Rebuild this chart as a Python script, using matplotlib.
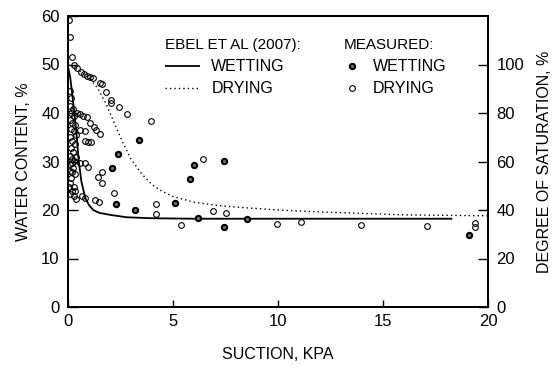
import matplotlib.pyplot as plt

plt.rcParams["font.family"] = ["Liberation Sans", "DejaVu Sans"]

# Ebel et al (2007) model curves
model_wet_suction = [0, 0.1, 0.2, 0.3, 0.4, 0.5, 0.64, 0.83, 1.0, 1.2, 1.5, 2.0,
                     2.8, 4, 6, 10, 14, 18.3]
model_wet_wc = [49.5, 47.5, 44, 40, 36, 30.5, 25.8, 22.4, 21.0, 20.0, 19.4, 19.0,
                18.5, 18.3, 18.2, 18.2, 18.2, 18.2]

model_dry_suction = [0, 0.5, 1.0, 1.4, 1.8, 2.2, 2.6, 3.0, 3.5, 4.0, 4.5, 5.0, 6.0,
                     7.0, 8.0, 9.0, 10, 12, 14, 16, 18, 20]
model_dry_wc = [50, 48.8, 47.3, 45.2, 42, 38, 34, 30.5, 27.5, 25.2, 23.8, 22.8, 21.6,
                21.0, 20.6, 20.3, 20.0, 19.6, 19.3, 19.0, 18.9, 18.8]

# measured, wetting
wet_suction = [2.09, 2.38, 3.38, 2.28, 3.19, 5.1, 5.8, 6.0, 7.43, 6.2, 7.43, 8.5, 19.1]
wet_wc = [28.7, 31.5, 34.4, 21.2, 20.0, 21.4, 26.4, 29.3, 30.1, 18.4, 16.5, 18.1, 14.8]

# measured, drying
dry_suction = [
    0.05, 0.1, 0.2, 0.3, 0.45, 0.6, 0.75, 0.9, 1.05, 1.2, 1.52, 1.6, 1.8, 2.05, 2.05,
    2.43, 2.8, 3.95,
    0.43, 0.57, 0.71, 0.9, 1.05, 1.24, 1.33, 1.52, 0.57, 0.8, 0.8, 0.95, 1.1,
    0.2, 0.57, 0.8, 0.95, 0.33, 0.2, 0.1, 0.29, 0.33, 0.67, 0.8, 1.29, 1.48, 1.62,
    1.43, 1.62, 2.19, 4.19, 4.19, 5.38, 6.43, 6.9, 7.52, 9.95, 11.1, 13.95, 17.1,
    19.4, 19.4,
    0.08, 0.15, 0.1, 0.22, 0.12, 0.3, 0.08, 0.2, 0.35, 0.12, 0.27, 0.4, 0.08, 0.2,
    0.32, 0.12, 0.25, 0.08, 0.38, 0.18, 0.3, 0.1, 0.22, 0.08, 0.14, 0.05, 0.2, 0.1,
    0.28, 0.4,
]
dry_wc = [
    59.2, 55.7, 51.5, 49.9, 49.3, 48.5, 48.0, 47.7, 47.5, 47.2, 46.2, 46.0, 44.3, 42.7,
    42.0, 41.2, 39.8, 38.4,
    40.0, 39.8, 39.4, 39.2, 37.9, 37.1, 36.5, 35.7, 36.5, 36.3, 34.2, 34.0, 34.0,
    29.7, 29.7, 29.7, 28.9, 27.4, 27.8, 25.6, 24.7, 23.9, 22.9, 22.5, 22.1, 21.7, 27.8,
    26.8, 25.6, 23.5, 21.2, 19.2, 16.9, 30.5, 19.8, 19.4, 17.1, 17.5, 16.9, 16.7,
    17.3, 16.5,
    44.5, 43.0, 41.5, 40.8, 40.0, 39.3, 38.6, 38.0, 37.6, 36.8, 36.2, 35.5, 35.0, 34.3,
    33.6, 32.8, 32.0, 31.2, 31.0, 30.5, 30.2, 29.4, 28.6, 28.0, 26.5, 24.8, 24.0, 23.2,
    22.8, 22.3,
]

left_ticks = [0, 10, 20, 30, 40, 50, 60]
right_ticks = [0, 20, 40, 60, 80, 100]
x_ticks = [0, 5, 10, 15, 20]

fig = plt.figure(figsize=(5.52, 3.74), dpi=100)
ax = fig.add_axes([68 / 552, 1 - 307 / 374, 420 / 552, 291 / 374])

wet_line, = ax.plot(model_wet_suction, model_wet_wc, color="black", lw=1.3,
                    solid_capstyle="butt")
dry_line, = ax.plot(model_dry_suction, model_dry_wc, color="black", lw=1.0,
                    linestyle=(0, (1, 2.2)))
wet_pts, = ax.plot(wet_suction, wet_wc, "o", ms=3.8, mfc="0.45", mec="black",
                   mew=1.5, linestyle="none")
dry_pts, = ax.plot(dry_suction, dry_wc, "o", ms=4.1, mfc="none", mec="black",
                   mew=0.8, linestyle="none")

ax.set_xlim(0, 20)
ax.set_ylim(0, 60)
ax.set_xticks(x_ticks)
ax.set_yticks(left_ticks)
ax.tick_params(direction="in", length=7, width=1, labelsize=12, pad=6)
ax.tick_params(axis="x", length=5, pad=5)
for s in ax.spines.values():
    s.set_linewidth(1.4)

ax.set_xlabel("SUCTION, KPA", fontsize=11.5, labelpad=13)
ax.set_ylabel("WATER CONTENT, %", fontsize=11.5, labelpad=7)

ax2 = ax.twinx()
ax2.set_ylim(0, 120)
ax2.set_yticks(right_ticks)
ax2.tick_params(direction="in", length=7, width=1, labelsize=12, pad=6)
for s in ax2.spines.values():
    s.set_linewidth(1.4)
ax2.set_ylabel("DEGREE OF SATURATION, %", fontsize=11.5, labelpad=9)

leg1 = ax.legend(handles=[wet_line, dry_line], labels=["WETTING", "DRYING"],
                 title="EBEL ET AL (2007):", title_fontsize=11, fontsize=11.5,
                 frameon=False, alignment="left", loc="upper left",
                 bbox_to_anchor=(165 / 552, 1 - 38 / 374),
                 bbox_transform=fig.transFigure, borderpad=0, borderaxespad=0,
                 handlelength=2.2, handletextpad=0.7, labelspacing=0.45)
ax.add_artist(leg1)
ax.legend(handles=[wet_pts, dry_pts], labels=["WETTING", "DRYING"],
          title="MEASURED:", title_fontsize=11, fontsize=11.5,
          frameon=False, alignment="left", loc="upper left",
          bbox_to_anchor=(344 / 552, 1 - 38 / 374),
          bbox_transform=fig.transFigure, borderpad=0, borderaxespad=0,
          handlelength=1.0, handletextpad=0.8, labelspacing=0.45)

plt.savefig("out.png", dpi=100)
